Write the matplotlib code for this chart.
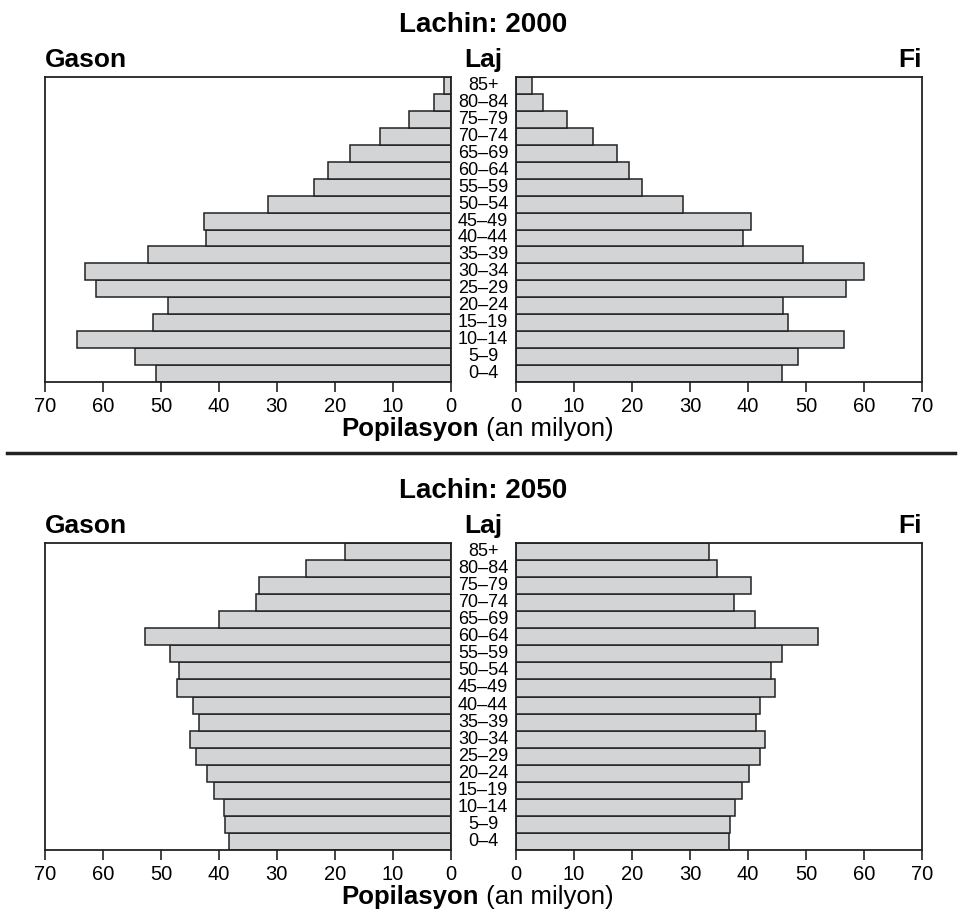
import matplotlib
matplotlib.use("Agg")
import matplotlib.pyplot as plt
from matplotlib.lines import Line2D
from matplotlib.transforms import blended_transform_factory

plt.rcParams['font.family'] = ['Liberation Sans', 'DejaVu Sans']

# Gwoup laj (soti anba rive anwo)
gwoup_laj = ['0–4', '5–9', '10–14', '15–19', '20–24', '25–29', '30–34', '35–39',
             '40–44', '45–49', '50–54', '55–59', '60–64', '65–69', '70–74',
             '75–79', '80–84', '85+']

# Popilasyon an milyon
gason_2000 = [50.9, 54.4, 64.4, 51.3, 48.8, 61.2, 63.1, 52.2, 42.3, 42.6,
              31.6, 23.6, 21.2, 17.3, 12.2, 7.2, 2.9, 1.15]
fi_2000 = [45.9, 48.7, 56.6, 46.9, 46.0, 56.95, 60.0, 49.5, 39.1, 40.5,
           28.85, 21.7, 19.4, 17.4, 13.2, 8.85, 4.6, 2.7]
gason_2050 = [38.2, 38.9, 39.2, 40.8, 42.0, 43.9, 44.9, 43.5, 44.5, 47.3,
              46.8, 48.4, 52.8, 40.0, 33.6, 33.1, 25.0, 18.2]
fi_2050 = [36.8, 36.9, 37.7, 39.0, 40.1, 42.1, 43.0, 41.4, 42.1, 44.6,
           44.0, 45.8, 52.0, 41.2, 37.5, 40.6, 34.7, 33.3]

tik = [0, 10, 20, 30, 40, 50, 60, 70]

W, H = 958, 914
fig = plt.figure(figsize=(W / 100, H / 100), dpi=100)


def fx(px):
    return px / W


def fy(py):
    return 1 - py / H


def pyramid(tit, gason, fi, top, bot):
    h = (bot - top) / H
    ax_g = fig.add_axes([fx(45), fy(bot), (450.7 - 45) / W, h])
    ax_f = fig.add_axes([fx(516), fy(bot), (922 - 516) / W, h])
    y = list(range(len(gwoup_laj)))
    ax_g.barh(y, gason, height=1.0, color='#d3d4d6', edgecolor='#222222', linewidth=1.1)
    ax_f.barh(y, fi, height=1.0, color='#d3d4d6', edgecolor='#222222', linewidth=1.1)
    for ax in (ax_g, ax_f):
        ax.set_ylim(-0.5, len(gwoup_laj) - 0.5)
        ax.set_xticks(tik)
        ax.set_yticks([])
        ax.tick_params(axis='x', direction='out', length=7, width=1.2, pad=4,
                       labelsize=14.5, color='#222222')
        for s in ax.spines.values():
            s.set_linewidth(1.3)
            s.set_color('#222222')
    ax_g.set_xlim(70, 0)
    ax_f.set_xlim(0, 70)

    # etikèt laj nan mitan
    tr = blended_transform_factory(ax_g.transAxes, ax_g.transData)
    xc = (483 - 45) / (450.7 - 45)
    for i, lab in enumerate(gwoup_laj):
        ax_g.text(xc, i, lab, transform=tr, ha='center', va='center',
                  fontsize=13, clip_on=False)

    fig.text(fx(483), fy(top - 45), tit, ha='center', va='baseline',
             fontsize=20, fontweight='bold')
    fig.text(fx(45), fy(top - 10), 'Gason', ha='left', va='baseline',
             fontsize=19, fontweight='bold')
    fig.text(fx(483), fy(top - 10), 'Laj', ha='center', va='baseline',
             fontsize=19, fontweight='bold')
    fig.text(fx(922), fy(top - 10), 'Fi', ha='right', va='baseline',
             fontsize=19, fontweight='bold')
    fig.text(fx(479), fy(bot + 54), 'Popilasyon', ha='right', va='baseline',
             fontsize=18.5, fontweight='bold')
    fig.text(fx(479), fy(bot + 54), ' (an milyon)', ha='left', va='baseline',
             fontsize=18.5)


pyramid('Lachin: 2000', gason_2000, fi_2000, 77, 382)
pyramid('Lachin: 2050', gason_2050, fi_2050, 543, 850)

# liy separasyon
fig.add_artist(Line2D([fx(7), fx(955)], [fy(453), fy(453)], color='#222222',
                      linewidth=2.5, transform=fig.transFigure))

fig.savefig('out.png', dpi=100)
